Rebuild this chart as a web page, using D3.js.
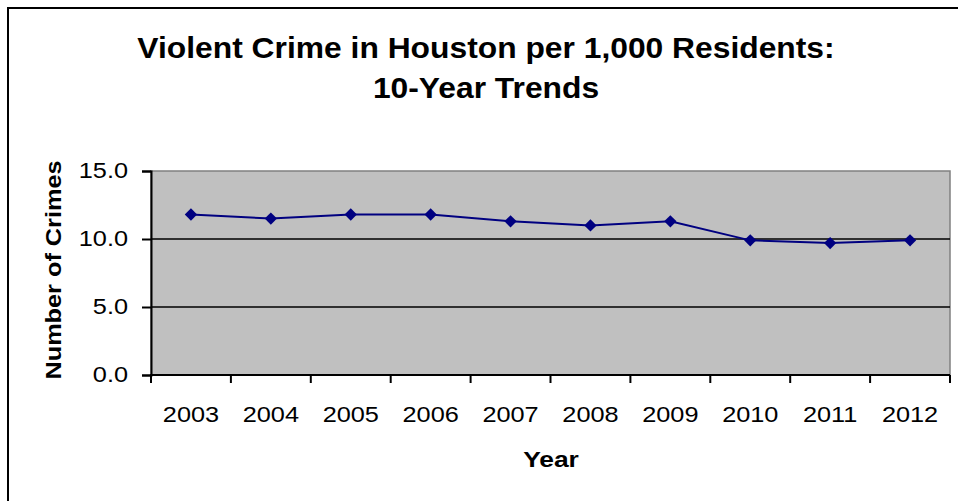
<!DOCTYPE html>
<html>
<head>
<meta charset="utf-8">
<script src="https://cdn.jsdelivr.net/npm/d3@7"></script>
<style>
  html, body { margin: 0; padding: 0; background: #fff; }
  svg { display: block; font-family: "Liberation Sans", Arial, sans-serif; }
</style>
</head>
<body>
<svg id="chart" width="958" height="501"></svg>
<script>
// Violent crimes per 1,000 residents, Houston
const years = ["2003", "2004", "2005", "2006", "2007", "2008", "2009", "2010", "2011", "2012"];
const crimeRates = [11.8, 11.5, 11.8, 11.8, 11.3, 11.0, 11.3, 9.9, 9.7, 9.9];
const yTicks = [0, 5, 10, 15];
const titleLines = ["Violent Crime in Houston per 1,000 Residents:", "10-Year Trends"];

const svg = d3.select("#chart");
const plot = { left: 151, right: 950, top: 171, bottom: 375 };

// text helper: the chart font is set a little wide, so glyphs are stretched horizontally
function label(parent, px, py, str, opts) {
  const o = Object.assign({ size: 22, weight: "normal", anchor: "middle", sx: 1.15, rotate: 0, baseline: null }, opts || {});
  const g = parent.append("g")
    .attr("transform", `translate(${px},${py}) rotate(${o.rotate}) scale(${o.sx},1)`);
  const t = g.append("text")
    .attr("text-anchor", o.anchor)
    .attr("font-size", o.size)
    .attr("font-weight", o.weight)
    .attr("fill", "#000")
    .text(str);
  if (o.baseline) t.attr("dominant-baseline", o.baseline);
  return t;
}

// outer chart frame (extends past the right and bottom edges)
svg.append("rect")
  .attr("x", 8).attr("y", 8)
  .attr("width", 1100).attr("height", 700)
  .attr("fill", "#fff")
  .attr("stroke", "#000").attr("stroke-width", 2);

const x = d3.scaleBand().domain(years).range([plot.left, plot.right]).padding(0);
const y = d3.scaleLinear().domain([0, 15]).range([plot.bottom, plot.top]);

// plot area background
svg.append("rect")
  .attr("x", plot.left).attr("y", plot.top)
  .attr("width", plot.right - plot.left).attr("height", plot.bottom - plot.top)
  .attr("fill", "#c0c0c0")
  .attr("stroke", "#808080").attr("stroke-width", 1.5);

// horizontal gridlines
svg.append("g")
  .selectAll("line")
  .data(yTicks.filter(t => t > 0 && t < 15))
  .join("line")
  .attr("x1", plot.left).attr("x2", plot.right)
  .attr("y1", d => y(d)).attr("y2", d => y(d))
  .attr("stroke", "#000").attr("stroke-width", 1.5);

// y axis line and ticks
const yAxis = d3.axisLeft(y).tickValues(yTicks).tickFormat("").tickSize(9);
const gy = svg.append("g").attr("transform", `translate(${plot.left},0)`).call(yAxis);
gy.select(".domain").attr("stroke", "#000").attr("stroke-width", 2);
gy.selectAll(".tick line").attr("stroke", "#000").attr("stroke-width", 2);
const fmt = d3.format(".1f");
const yLabels = svg.append("g");
yTicks.forEach(t => label(yLabels, 128, y(t), fmt(t), { anchor: "end", baseline: "central" }));

// x axis: ticks sit on the category boundaries
const bounds = years.map(d => x(d)).concat([plot.right]);
svg.append("line")
  .attr("x1", plot.left - 1).attr("x2", plot.right)
  .attr("y1", plot.bottom).attr("y2", plot.bottom)
  .attr("stroke", "#000").attr("stroke-width", 2);
svg.append("g")
  .selectAll("line")
  .data(bounds)
  .join("line")
  .attr("x1", d => d).attr("x2", d => d)
  .attr("y1", plot.bottom).attr("y2", plot.bottom + 8)
  .attr("stroke", "#000").attr("stroke-width", 2);
const xLabels = svg.append("g");
years.forEach(yr => label(xLabels, x(yr) + x.bandwidth() / 2, 422, yr));

// data line and diamond markers
const line = d3.line()
  .x((d, i) => x(years[i]) + x.bandwidth() / 2)
  .y(d => y(d));
svg.append("path")
  .datum(crimeRates)
  .attr("d", line)
  .attr("fill", "none")
  .attr("stroke", "#000080").attr("stroke-width", 2);
const diamond = d3.symbol().type(d3.symbolSquare).size(76);
svg.append("g")
  .selectAll("path")
  .data(crimeRates)
  .join("path")
  .attr("d", diamond)
  .attr("transform", (d, i) => `translate(${x(years[i]) + x.bandwidth() / 2},${y(d)}) rotate(45)`)
  .attr("fill", "#000080");

// titles
const titles = svg.append("g");
titleLines.forEach((s, i) => label(titles, 486, 58 + i * 40, s, { size: 30, weight: "bold", sx: 1.06 }));

label(svg, 551, 467, "Year", { size: 22, weight: "bold", sx: 1.2 });
label(svg, 61, 270, "Number of Crimes", { size: 22, weight: "bold", sx: 1.15, rotate: -90 });
</script>
</body>
</html>
